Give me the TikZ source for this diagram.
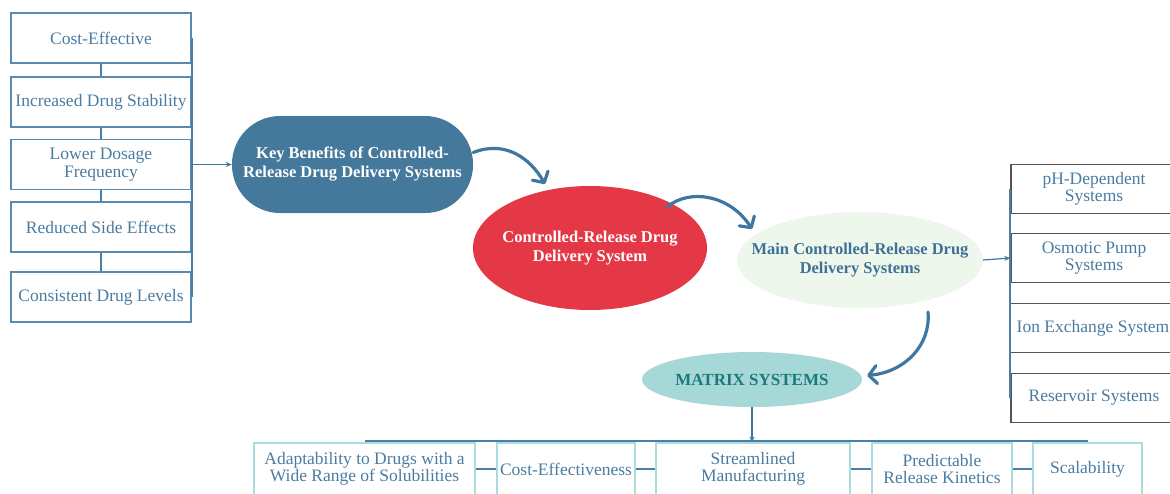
\documentclass[tikz,border=0pt]{standalone}
\usepackage{fontspec}
\setmainfont{Liberation Serif}
\usetikzlibrary{arrows.meta,shapes.geometric}
\definecolor{txtblue}{HTML}{4A7CA1}
\definecolor{boxblue}{HTML}{5A8BAE}
\definecolor{busblue}{HTML}{4A80A6}
\definecolor{kbfill}{HTML}{45799C}
\definecolor{arrblue}{HTML}{3F77A0}
\definecolor{crred}{HTML}{E43846}
\definecolor{grfill}{HTML}{EEF7EC}
\definecolor{grtext}{HTML}{3D7196}
\definecolor{matfill}{HTML}{A7D8D8}
\definecolor{mattext}{HTML}{1D7A7A}
\definecolor{grayline}{HTML}{555555}
\definecolor{cyanline}{HTML}{A8DCE0}
\begin{document}
\begin{tikzpicture}[x=1pt,y=-1pt,
  regfont/.style={font=\fontsize{17.5}{17.5}\selectfont},
  boldfont/.style={font=\fontsize{16.5}{19}\selectfont\bfseries},
  lbox/.style={draw=boxblue,line width=1.2pt,minimum width=180pt,minimum height=50pt,inner sep=0pt,align=center,text=txtblue,regfont},
  rbox/.style={draw=grayline,line width=1.4pt,minimum width=166pt,minimum height=49pt,inner sep=0pt,align=center,text=txtblue,regfont},
  bbox/.style={draw=cyanline,line width=1.2pt,minimum height=52pt,inner sep=0pt,align=center,text=txtblue,regfont},
  link/.style={draw=busblue,line width=1.5pt},
  link2/.style={draw=busblue,line width=2pt},
  bus/.style={draw=busblue,line width=2pt},
  thinarrow/.style={draw=arrblue,line width=1.2pt,-{Stealth[length=6pt,width=5pt]}},
  curvarrow/.style={draw=arrblue,line width=3.2pt,line cap=round,-{Straight Barb[length=8pt,width=18pt,round]}}
]
\useasboundingbox (0,0) rectangle (1170,493);
\clip (0,0) rectangle (1170,493);

% left boxes
\node[lbox] (l1) at (101,38) {Cost-Effective};
\node[lbox] (l2) at (101,102) {Increased Drug Stability};
\node[lbox] (l3) at (101,164.5) {Lower Dosage\\Frequency};
\node[lbox] (l4) at (101,227) {Reduced Side Effects};
\node[lbox] (l5) at (101,297) {Consistent Drug Levels};
\draw[link] (l1.south) -- (l2.north);
\draw[link] (l2.south) -- (l3.north);
\draw[link] (l3.south) -- (l4.north);
\draw[link] (l4.south) -- (l5.north);
\draw[bus] (l1.east) -- (l5.east);

% key benefits
\node[fill=kbfill,rounded corners=48pt,minimum width=241pt,minimum height=97pt,inner sep=0pt,align=center,text=white,boldfont] (kb) at (352.5,164.5) {Key Benefits of Controlled-\\Release Drug Delivery Systems};
\draw[thinarrow] (l3.east) -- (kb.west);

% red ellipse
\node[ellipse,fill=crred,minimum width=234pt,minimum height=124pt,inner xsep=-40pt,inner ysep=0pt,align=center,text=white,boldfont] (cr) at (590,248) {Controlled-Release Drug\\Delivery System};

% green ellipse
\node[ellipse,fill=grfill,minimum width=246pt,minimum height=96pt,inner xsep=-70pt,inner ysep=0pt,align=center,text=grtext,boldfont] (gr) at (860,260) {Main Controlled-Release Drug\\Delivery Systems};

% matrix
\node[ellipse,fill=matfill,minimum width=220pt,minimum height=55pt,inner xsep=-30pt,inner ysep=0pt,align=center,text=mattext,font=\fontsize{17}{19}\selectfont\bfseries] (mat) at (752,379.5) {MATRIX SYSTEMS};

% curved arrows
\draw[curvarrow] ([yshift=12pt]kb.east) .. controls (505,140) and (530,158) .. ([shift={(-45,-64)}]cr.center);
\draw[curvarrow] ([shift={(77,-41)}]cr.center) .. controls (690,188) and (730,195) .. ([shift={(-108,-31)}]gr.center);
\draw[curvarrow] ([shift={(68,52)}]gr.center) .. controls (931,345) and (905,372) .. ([shift={(5,-4)}]mat.east);

% right boxes
\node[rbox] (r1) at (1094,189) {pH-Dependent\\Systems};
\node[rbox] (r2) at (1094,258) {Osmotic Pump\\Systems};
\node[rbox] (r3) at (1093,328) {Ion Exchange System};
\node[rbox] (r4) at (1094,398) {Reservoir Systems};
\draw[bus] (r1.west) -- (r4.west);
\draw[thinarrow] (gr.east) -- (r2.west);

% bottom boxes
\node[bbox,minimum width=221pt] (b1) at (364.5,469) {Adaptability to Drugs with a\\Wide Range of Solubilities};
\node[bbox,minimum width=138pt] (b2) at (566,469) {Cost-Effectiveness};
\node[bbox,minimum width=194pt] (b3) at (753,469) {Streamlined\\Manufacturing};
\node[bbox,minimum width=140pt] (b4) at (942,469) {Predictable\\Release Kinetics};
\node[bbox,minimum width=109pt] (b5) at (1087.5,469) {Scalability};
\draw[bus] ([yshift=1pt]b1.north) -- ([yshift=1pt]b5.north);
\draw[thinarrow] (mat.south) -- (mat.south |- b3.north);
\draw[link2] (b1.east) -- (b2.west);
\draw[link2] (b2.east) -- (b3.west);
\draw[link2] (b3.east) -- (b4.west);
\draw[link2] (b4.east) -- (b5.west);
\end{tikzpicture}
\end{document}
